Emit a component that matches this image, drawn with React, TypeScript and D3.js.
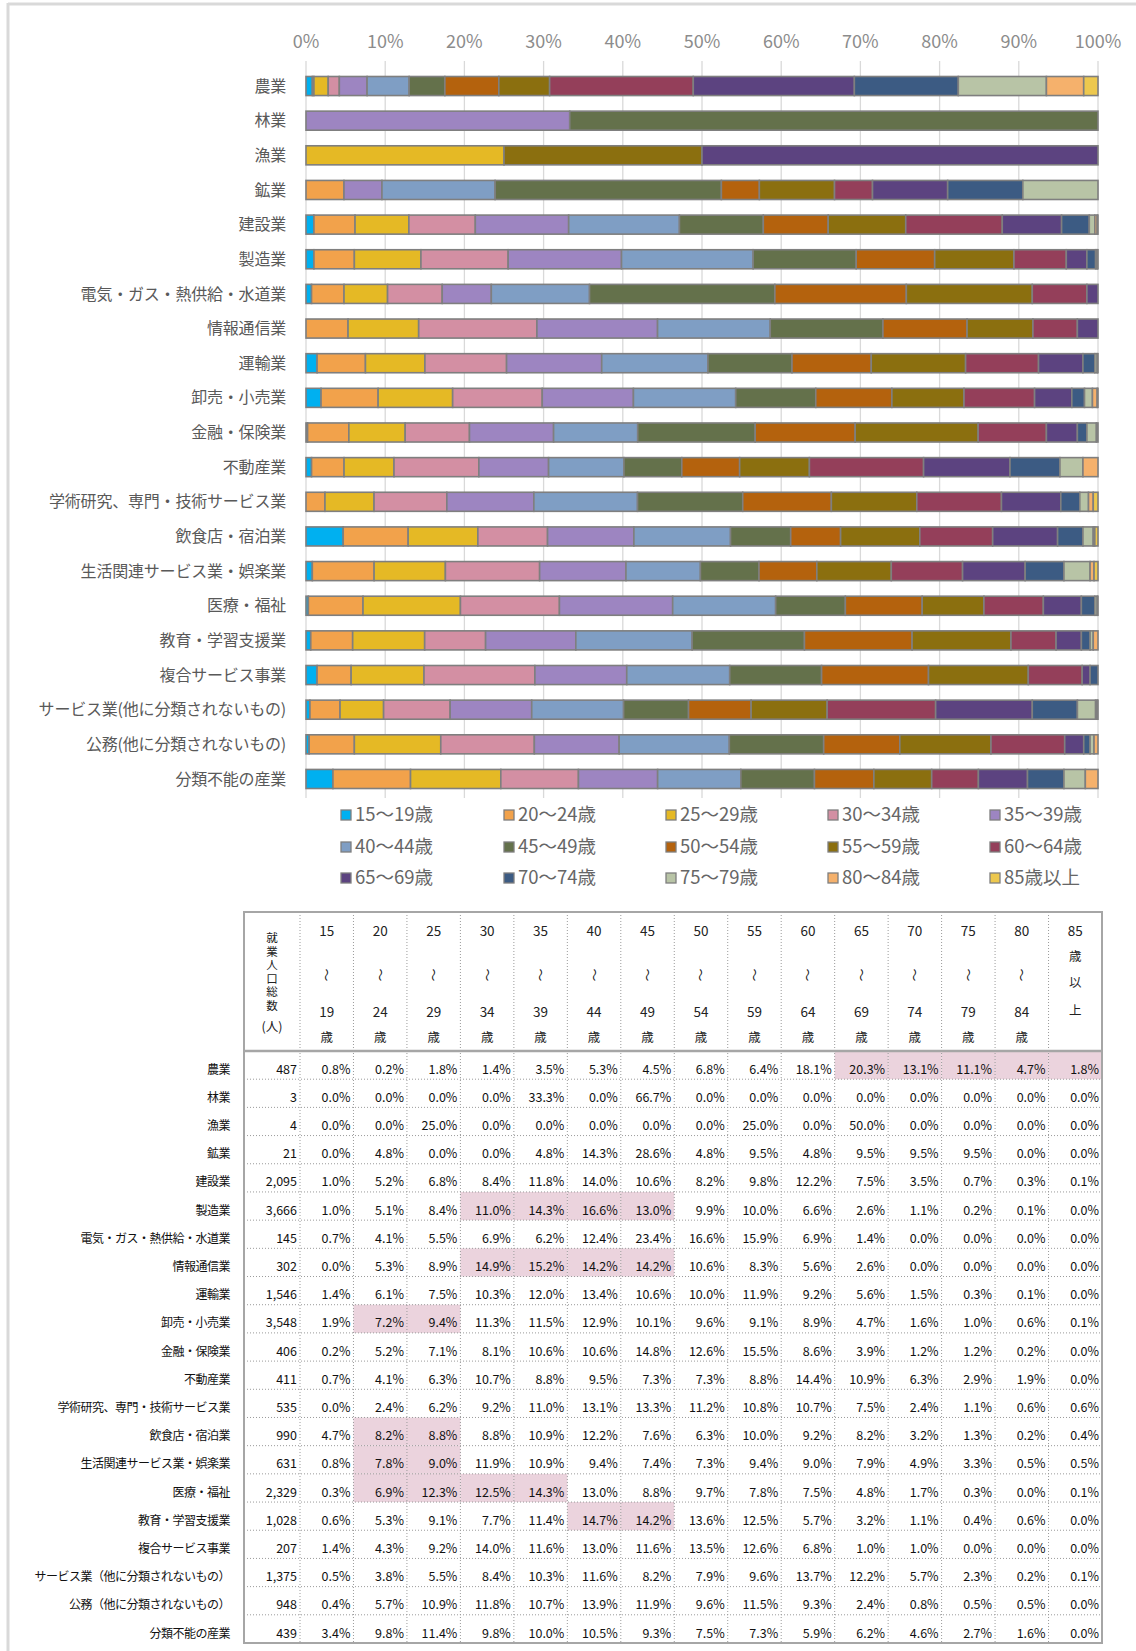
import React from 'react';
import * as d3 from 'd3';

// 産業分類（グラフ用ラベル）
const categories = [
  '農業', '林業', '漁業', '鉱業', '建設業', '製造業', '電気・ガス・熱供給・水道業',
  '情報通信業', '運輸業', '卸売・小売業', '金融・保険業', '不動産業',
  '学術研究、専門・技術サービス業', '飲食店・宿泊業', '生活関連サービス業・娯楽業',
  '医療・福祉', '教育・学習支援業', '複合サービス事業',
  'サービス業(他に分類されないもの)', '公務(他に分類されないもの)', '分類不能の産業'
];

// 表の行ラベル（全角括弧）
const tableLabels = [
  '農業', '林業', '漁業', '鉱業', '建設業', '製造業', '電気・ガス・熱供給・水道業',
  '情報通信業', '運輸業', '卸売・小売業', '金融・保険業', '不動産業',
  '学術研究、専門・技術サービス業', '飲食店・宿泊業', '生活関連サービス業・娯楽業',
  '医療・福祉', '教育・学習支援業', '複合サービス事業',
  'サービス業（他に分類されないもの）', '公務（他に分類されないもの）', '分類不能の産業'
];

const ageGroups = [
  '15～19歳', '20～24歳', '25～29歳', '30～34歳', '35～39歳',
  '40～44歳', '45～49歳', '50～54歳', '55～59歳', '60～64歳',
  '65～69歳', '70～74歳', '75～79歳', '80～84歳', '85歳以上'
];

const headTop = ['15', '20', '25', '30', '35', '40', '45', '50', '55', '60', '65', '70', '75', '80'];
const headBottom = ['19', '24', '29', '34', '39', '44', '49', '54', '59', '64', '69', '74', '79', '84'];

const colors = [
  '#00b0f0', '#f2a24b', '#e5b925', '#d38fa3', '#9d85c1',
  '#7f9ec4', '#64714b', '#b4620d', '#8b6f0f', '#943f5a',
  '#5c4380', '#3c5b83', '#b8c4a6', '#f5b16c', '#edc84e'
];

// 就業人口総数（人）
const totals = [487, 3, 4, 21, 2095, 3666, 145, 302, 1546, 3548, 406, 411, 535, 990, 631, 2329, 1028, 207, 1375, 948, 439];

// 年齢階級別構成比（%）
const rowValues: number[][] = [
  [0.8, 0.2, 1.8, 1.4, 3.5, 5.3, 4.5, 6.8, 6.4, 18.1, 20.3, 13.1, 11.1, 4.7, 1.8],
  [0.0, 0.0, 0.0, 0.0, 33.3, 0.0, 66.7, 0.0, 0.0, 0.0, 0.0, 0.0, 0.0, 0.0, 0.0],
  [0.0, 0.0, 25.0, 0.0, 0.0, 0.0, 0.0, 0.0, 25.0, 0.0, 50.0, 0.0, 0.0, 0.0, 0.0],
  [0.0, 4.8, 0.0, 0.0, 4.8, 14.3, 28.6, 4.8, 9.5, 4.8, 9.5, 9.5, 9.5, 0.0, 0.0],
  [1.0, 5.2, 6.8, 8.4, 11.8, 14.0, 10.6, 8.2, 9.8, 12.2, 7.5, 3.5, 0.7, 0.3, 0.1],
  [1.0, 5.1, 8.4, 11.0, 14.3, 16.6, 13.0, 9.9, 10.0, 6.6, 2.6, 1.1, 0.2, 0.1, 0.0],
  [0.7, 4.1, 5.5, 6.9, 6.2, 12.4, 23.4, 16.6, 15.9, 6.9, 1.4, 0.0, 0.0, 0.0, 0.0],
  [0.0, 5.3, 8.9, 14.9, 15.2, 14.2, 14.2, 10.6, 8.3, 5.6, 2.6, 0.0, 0.0, 0.0, 0.0],
  [1.4, 6.1, 7.5, 10.3, 12.0, 13.4, 10.6, 10.0, 11.9, 9.2, 5.6, 1.5, 0.3, 0.1, 0.0],
  [1.9, 7.2, 9.4, 11.3, 11.5, 12.9, 10.1, 9.6, 9.1, 8.9, 4.7, 1.6, 1.0, 0.6, 0.1],
  [0.2, 5.2, 7.1, 8.1, 10.6, 10.6, 14.8, 12.6, 15.5, 8.6, 3.9, 1.2, 1.2, 0.2, 0.0],
  [0.7, 4.1, 6.3, 10.7, 8.8, 9.5, 7.3, 7.3, 8.8, 14.4, 10.9, 6.3, 2.9, 1.9, 0.0],
  [0.0, 2.4, 6.2, 9.2, 11.0, 13.1, 13.3, 11.2, 10.8, 10.7, 7.5, 2.4, 1.1, 0.6, 0.6],
  [4.7, 8.2, 8.8, 8.8, 10.9, 12.2, 7.6, 6.3, 10.0, 9.2, 8.2, 3.2, 1.3, 0.2, 0.4],
  [0.8, 7.8, 9.0, 11.9, 10.9, 9.4, 7.4, 7.3, 9.4, 9.0, 7.9, 4.9, 3.3, 0.5, 0.5],
  [0.3, 6.9, 12.3, 12.5, 14.3, 13.0, 8.8, 9.7, 7.8, 7.5, 4.8, 1.7, 0.3, 0.0, 0.1],
  [0.6, 5.3, 9.1, 7.7, 11.4, 14.7, 14.2, 13.6, 12.5, 5.7, 3.2, 1.1, 0.4, 0.6, 0.0],
  [1.4, 4.3, 9.2, 14.0, 11.6, 13.0, 11.6, 13.5, 12.6, 6.8, 1.0, 1.0, 0.0, 0.0, 0.0],
  [0.5, 3.8, 5.5, 8.4, 10.3, 11.6, 8.2, 7.9, 9.6, 13.7, 12.2, 5.7, 2.3, 0.2, 0.1],
  [0.4, 5.7, 10.9, 11.8, 10.7, 13.9, 11.9, 9.6, 11.5, 9.3, 2.4, 0.8, 0.5, 0.5, 0.0],
  [3.4, 9.8, 11.4, 9.8, 10.0, 10.5, 9.3, 7.5, 7.3, 5.9, 6.2, 4.6, 2.7, 1.6, 0.0]
];

// 網掛けセル（行 -> 列番号）
const highlightCells: number[][] = [
  [10, 11, 12, 13, 14], [], [], [], [], [3, 4, 5, 6], [], [3, 4, 5, 6], [], [1, 2],
  [], [], [], [1, 2], [1, 2], [1, 2, 3, 4], [5, 6], [], [], [], []
];

const FONT = '"Noto Sans CJK JP", "Noto Sans", sans-serif';

export default function App() {
  const W = 1136;
  const H = 1651;

  // --- グラフ ---
  const data = categories.map((c, i) => {
    const o: any = { name: c };
    ageGroups.forEach((a, j) => (o[a] = rowValues[i][j]));
    return o;
  });
  const series = d3.stack<any>().keys(ageGroups).offset(d3.stackOffsetExpand)(data);

  const x = d3.scaleLinear().domain([0, 1]).range([306, 1098]);
  const y = d3.scaleBand<string>()
    .domain(categories)
    .range([68.7, 796.3])
    .paddingInner(0.45)
    .paddingOuter(0.225);
  const ticks = d3.range(0, 1.0001, 0.1);
  const pct = d3.format('.0%');

  // --- 表 ---
  const tLeft = 244, tRight = 1102, tTop = 912, tHead = 1051, tBottom = 1643;
  const firstColRight = 300;
  const colX = d3.scaleLinear().domain([0, 15]).range([firstColRight, tRight]);
  const rowY = d3.scaleBand<string>().domain(tableLabels).range([tHead, tBottom]);
  const fmtTotal = d3.format(',');
  const fmtPct = (v: number) => d3.format('.1f')(v) + '%';

  const legendX = [346, 509, 671, 833, 995];
  const legendY = [815, 847, 878];

  return (
    <svg width={W} height={H} style={{ position: 'absolute', left: 0, top: 0, background: '#fff' }} fontFamily={FONT}>
      {/* 枠 */}
      <line x1={8} x2={W} y1={4} y2={4} stroke="#d9d9d9" strokeWidth={3} />
      <line x1={8} x2={8} y1={3} y2={H} stroke="#d9d9d9" strokeWidth={3} />

      {/* 目盛線 */}
      {ticks.map((t, i) => (
        <g key={'t' + i}>
          <line x1={x(t)} x2={x(t)} y1={61} y2={798} stroke="#d9d9d9" strokeWidth={1.3} />
          <text x={x(t)} y={42} textAnchor="middle" dy="0.35em" fontSize={18} fill="#8c8c8c">{pct(t)}</text>
        </g>
      ))}

      {/* 棒 */}
      {series.map((s, k) => (
        <g key={s.key} fill={colors[k]}>
          {s.map((d, i) => {
            const w = x(d[1]) - x(d[0]);
            if (w <= 0.01) return null;
            return (
              <rect key={i} x={x(d[0])} y={y(categories[i])} width={w} height={y.bandwidth()}
                stroke="#7f7f7f" strokeWidth={1.6} />
            );
          })}
        </g>
      ))}

      {/* カテゴリラベル */}
      {categories.map((c) => (
        <text key={c} x={286} y={(y(c) as number) + y.bandwidth() / 2} dy="0.35em"
          textAnchor="end" fontSize={16} fill="#595959" letterSpacing={-0.2}>{c}</text>
      ))}

      {/* 凡例 */}
      {ageGroups.map((a, i) => {
        const lx = legendX[i % 5];
        const ly = legendY[Math.floor(i / 5)];
        return (
          <g key={a}>
            <rect x={lx - 5} y={ly - 5} width={10} height={10} fill={colors[i]} stroke="#7f7f7f" strokeWidth={1.3} />
            <text x={lx + 9} y={ly} dy="0.35em" fontSize={18.5} fill="#666">{a}</text>
          </g>
        );
      })}

      {/* 網掛け */}
      {highlightCells.map((cols, r) => cols.map((c) => (
        <rect key={r + '-' + c} x={colX(c)} y={rowY(tableLabels[r])} width={colX(c + 1) - colX(c)}
          height={rowY.bandwidth()} fill="#ebd3dd" />
      )))}

      {/* 表の罫線 */}
      {d3.range(1, 16).map((c) => (
        <line key={'vc' + c} x1={colX(c)} x2={colX(c)} y1={tTop} y2={tBottom}
          stroke="#9a9a9a" strokeWidth={1} strokeDasharray="1,2" />
      ))}
      <line x1={colX(0)} x2={colX(0)} y1={tTop} y2={tBottom} stroke="#9a9a9a" strokeWidth={1} strokeDasharray="1,2" />
      {tableLabels.slice(1).map((l) => (
        <line key={'hr' + l} x1={tLeft} x2={tRight} y1={rowY(l)} y2={rowY(l)}
          stroke="#9a9a9a" strokeWidth={1} strokeDasharray="1,2" />
      ))}
      <line x1={tLeft} x2={tRight} y1={tHead} y2={tHead} stroke="#a6a6a6" strokeWidth={2.5} />
      <rect x={tLeft} y={tTop} width={tRight - tLeft} height={tBottom - tTop} fill="none" stroke="#a6a6a6" strokeWidth={2} />

      {/* 表見出し */}
      {['就', '業', '人', '口', '総', '数'].map((ch, i) => (
        <text key={'h' + i} x={(tLeft + firstColRight) / 2} y={938 + i * 13.6} dy="0.35em"
          textAnchor="middle" fontSize={11.5} fill="#222">{ch}</text>
      ))}
      <text x={(tLeft + firstColRight) / 2} y={1027} dy="0.35em" textAnchor="middle" fontSize={12.5} fill="#222">(人)</text>
      {headTop.map((h, c) => {
        const cx = (colX(c) + colX(c + 1)) / 2;
        return (
          <g key={'hc' + c} fontSize={13.5} fill="#222" textAnchor="middle">
            <text x={cx} y={931} dy="0.35em">{h}</text>
            <text transform={`translate(${cx},975) rotate(90)`} dy="0.35em" fontSize={13}>～</text>
            <text x={cx} y={1012} dy="0.35em">{headBottom[c]}</text>
            <text x={cx} y={1038} dy="0.35em" fontSize={12.5}>歳</text>
          </g>
        );
      })}
      {(() => {
        const cx = (colX(14) + colX(15)) / 2;
        return (
          <g fontSize={13.5} fill="#222" textAnchor="middle">
            <text x={cx} y={931} dy="0.35em">85</text>
            <text x={cx} y={957} dy="0.35em" fontSize={12.5}>歳</text>
            <text x={cx} y={983} dy="0.35em" fontSize={12.5}>以</text>
            <text x={cx} y={1011} dy="0.35em" fontSize={12.5}>上</text>
          </g>
        );
      })()}

      {/* 表本体 */}
      {tableLabels.map((l, r) => {
        const by = (rowY(l) as number) + rowY.bandwidth() - 5.5;
        return (
          <g key={'row' + r} fontSize={12.5} fill="#111">
            <text x={230} y={by} textAnchor="end" fontSize={12} letterSpacing={-0.5}>{l}</text>
            <text x={firstColRight - 3} y={by} textAnchor="end">{fmtTotal(totals[r])}</text>
            {rowValues[r].map((v, c) => (
              <text key={c} x={colX(c + 1) - 3} y={by} textAnchor="end">{fmtPct(v)}</text>
            ))}
          </g>
        );
      })}
    </svg>
  );
}
